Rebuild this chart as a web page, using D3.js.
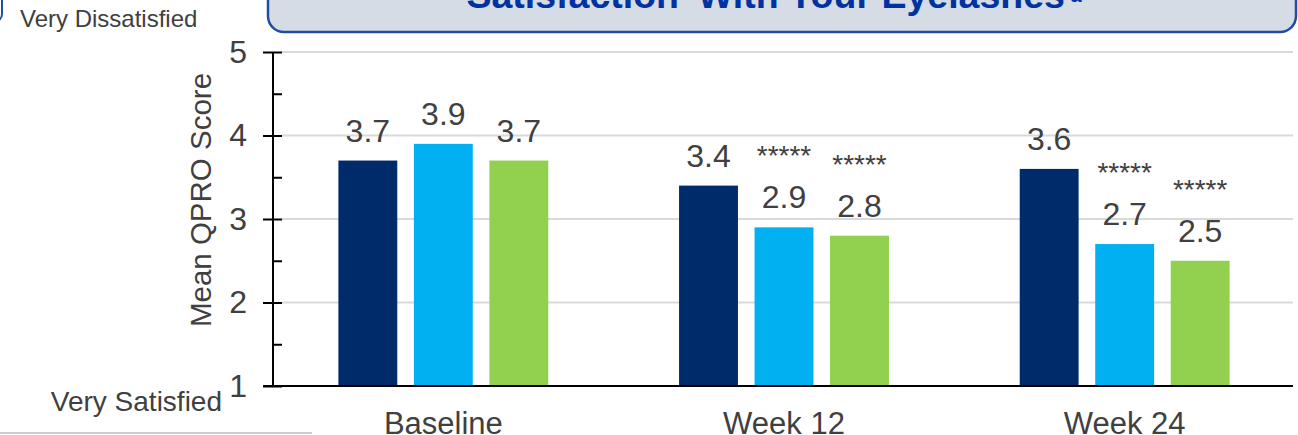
<!DOCTYPE html>
<html>
<head>
<meta charset="utf-8">
<script src="https://cdn.jsdelivr.net/npm/d3@7"></script>
<style>
  html, body { margin: 0; padding: 0; background: #fff; }
  svg { display: block; font-family: "Liberation Sans", Arial, sans-serif; }
</style>
</head>
<body>
<div id="chart"></div>
<script>
(function() {
    // Chart data
    const categories = ["Baseline", "Week 12", "Week 24"];
    const series = ["Group A", "Group B", "Group C"];
    const seriesColors = ["#002B6B", "#00B0F0", "#92D050"];
    const values = [
        [3.7, 3.9, 3.7],
        [3.4, 2.9, 2.8],
        [3.6, 2.7, 2.5]
    ];
    // significance markers per bar
    const markers = [
        ["", "", ""],
        ["", "*****", "*****"],
        ["", "*****", "*****"]
    ];
    const yTicks = [1, 2, 3, 4, 5];
    const yMinorTicks = [1.5, 2.5, 3.5, 4.5];
    const titleText = "Satisfaction\u2019 With Your Eyelashes";
    const topLabel = "Very Dissatisfied";
    const bottomLabel = "Very Satisfied";
    const yTitle = "Mean QPRO Score";

    const width = 1298, height = 435;
    const textColor = "#404040";

    const svg = d3.select("#chart")
        .append("svg")
        .attr("width", width)
        .attr("height", height);

    // Scales
    const y = d3.scaleLinear().domain([1, 5]).range([386, 52]);
    const x0 = d3.scaleBand().domain(categories).range([273, 1295]);
    const x1 = d3.scaleBand().domain(series)
        .range([-113.25, 113.25])
        .paddingInner(0.22)
        .paddingOuter(0.11);

    const axisX = 273;

    // Title box (cut off at top of the slide)
    svg.append("rect")
        .attr("x", 268).attr("y", -40)
        .attr("width", 1028).attr("height", 72)
        .attr("rx", 16)
        .attr("fill", "#D6DCE5")
        .attr("stroke", "#1F4EA0")
        .attr("stroke-width", 2.5);

    const title = svg.append("text")
        .attr("x", 774).attr("y", 8)
        .attr("text-anchor", "middle")
        .attr("font-size", 37.5)
        .attr("font-weight", "bold")
        .attr("fill", "#0033A0");
    title.append("tspan").text(titleText);
    title.append("tspan").attr("font-size", 20).attr("dy", -6).text(" a");

    // Partial box at far left
    svg.append("rect")
        .attr("x", -60).attr("y", -40)
        .attr("width", 62).attr("height", 62)
        .attr("rx", 8)
        .attr("fill", "none")
        .attr("stroke", "#1F4EA0")
        .attr("stroke-width", 2);

    // Gridlines
    svg.append("g")
        .selectAll("line")
        .data(yTicks.slice(1))
        .enter().append("line")
        .attr("x1", 282).attr("x2", 1293)
        .attr("y1", d => y(d)).attr("y2", d => y(d))
        .attr("stroke", "#D9D9D9")
        .attr("stroke-width", 2);

    // Bars
    const groups = svg.append("g")
        .selectAll("g")
        .data(categories)
        .enter().append("g")
        .attr("transform", d => `translate(${x0(d) + x0.bandwidth() / 2},0)`);

    groups.each(function(cat, ci) {
        const g = d3.select(this);
        series.forEach((s, si) => {
            const v = values[ci][si];
            const bx = x1(s);
            g.append("rect")
                .attr("x", bx)
                .attr("y", y(v))
                .attr("width", x1.bandwidth())
                .attr("height", y(1) - y(v))
                .attr("fill", seriesColors[si]);
            g.append("text")
                .attr("x", bx + x1.bandwidth() / 2)
                .attr("y", y(v) - 19)
                .attr("text-anchor", "middle")
                .attr("font-size", 32)
                .attr("fill", textColor)
                .text(v.toFixed(1));
            if (markers[ci][si]) {
                g.append("text")
                    .attr("x", bx + x1.bandwidth() / 2)
                    .attr("y", y(v) - 62)
                    .attr("text-anchor", "middle")
                    .attr("font-size", 28)
                    .attr("fill", textColor)
                    .text(markers[ci][si]);
            }
        });
    });

    // Y axis: major ticks crossing the line, minor ticks inside
    const yAxisLeft = svg.append("g")
        .attr("transform", `translate(${axisX},0)`)
        .call(d3.axisLeft(y).tickValues(yTicks).tickSize(10).tickPadding(16).tickFormat(d3.format("d")));
    const yAxisRight = svg.append("g")
        .attr("transform", `translate(${axisX},0)`)
        .call(d3.axisRight(y).tickValues(yTicks.concat(yMinorTicks)).tickSize(9).tickFormat(""));

    [yAxisLeft, yAxisRight].forEach(a => {
        a.select(".domain").remove();
        a.selectAll(".tick line").attr("stroke", "#000").attr("stroke-width", 2);
    });
    yAxisLeft.selectAll(".tick text")
        .attr("font-size", 32)
        .attr("font-family", "Liberation Sans, Arial, sans-serif")
        .attr("fill", textColor);

    svg.append("line")
        .attr("x1", axisX).attr("x2", axisX)
        .attr("y1", y(5)).attr("y2", y(1))
        .attr("stroke", "#000").attr("stroke-width", 2);

    // X axis
    const xAxis = svg.append("g")
        .attr("transform", `translate(0,${y(1)})`)
        .call(d3.axisBottom(x0).tickSize(0).tickPadding(26));
    xAxis.select(".domain").remove();
    xAxis.selectAll(".tick text")
        .attr("font-size", 31)
        .attr("font-family", "Liberation Sans, Arial, sans-serif")
        .attr("fill", textColor);
    svg.append("line")
        .attr("x1", 263).attr("x2", 1293)
        .attr("y1", y(1)).attr("y2", y(1))
        .attr("stroke", "#000").attr("stroke-width", 2);

    // Y title
    svg.append("text")
        .attr("transform", "translate(211,200) rotate(-90)")
        .attr("text-anchor", "middle")
        .attr("font-size", 29.5)
        .attr("fill", textColor)
        .text(yTitle);

    // Scale anchors
    svg.append("text")
        .attr("x", 20).attr("y", 27)
        .attr("font-size", 24)
        .attr("fill", textColor)
        .text(topLabel);
    svg.append("text")
        .attr("x", 222).attr("y", 411)
        .attr("text-anchor", "end")
        .attr("font-size", 28)
        .attr("fill", textColor)
        .text(bottomLabel);

    // Divider line at bottom left
    svg.append("line")
        .attr("x1", 0).attr("x2", 312)
        .attr("y1", 433).attr("y2", 433)
        .attr("stroke", "#BFBFBF").attr("stroke-width", 1.5);
})();
</script>
</body>
</html>
